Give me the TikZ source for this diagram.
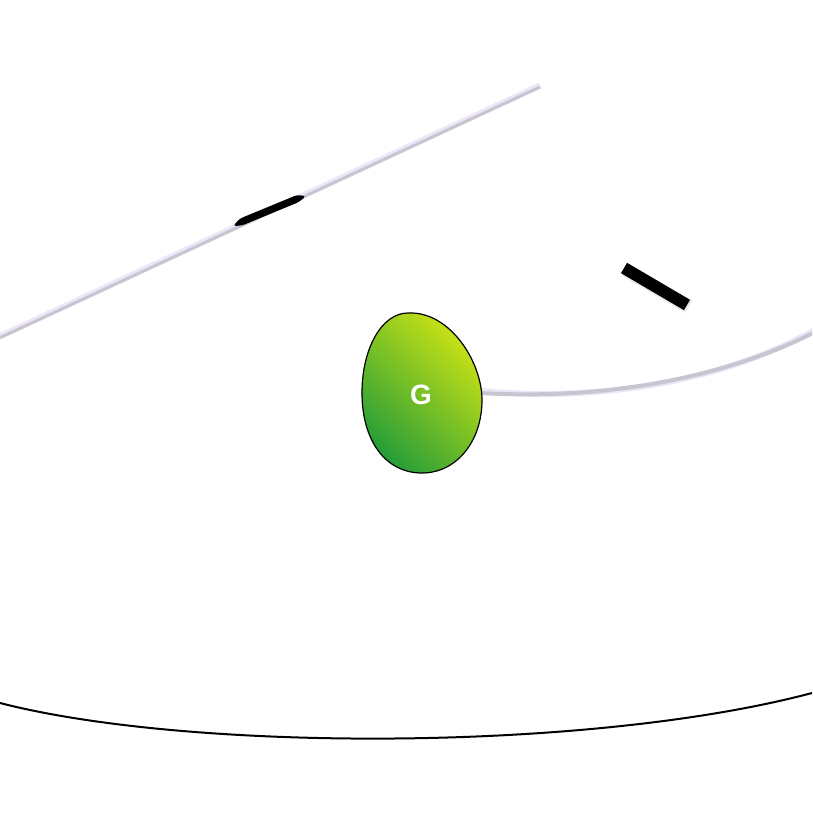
\documentclass[tikz,border=0pt]{standalone}
\usepackage{fontspec}
\setmainfont{Liberation Sans}
\begin{document}
\begin{tikzpicture}[x=1pt,y=-1pt,
  wire/.style={line width=3pt,color=wiregray},
  wirehalo/.style={line width=6pt,color=wirehalo},
  eggfill/.style={draw=black,line width=1.2pt,top color=egglight,bottom color=eggdark,shading angle=-45},
  blackbar/.style={line width=12pt,color=black}]
\definecolor{wiregray}{RGB}{200,196,208}
\definecolor{wirehalo}{RGB}{236,230,248}
\definecolor{egglight}{RGB}{205,228,20}
\definecolor{eggdark}{RGB}{40,158,55}
\useasboundingbox (0,0) rectangle (812,819);
\clip (0,0) rectangle (812,819);
% upper-left wire
\coordinate (wa) at (-5,340);
\coordinate (wb) at (540,87);
\draw[wirehalo] ([yshift=1.5pt]wa) -- ([yshift=1.5pt]wb);
\draw[wire] (wa) -- (wb);
% black tapered segment on the wire
\coordinate (sa) at (233,226);
\coordinate (sb) at (306,196);
\fill[black,rounded corners=3pt] (sa) -- (240,218.5) -- (297,195) -- (sb) -- (299,202) -- (242,225.5) -- cycle;
% black bar
\coordinate (ba) at (624,268);
\coordinate (bb) at (687,305);
\draw[line width=14pt,color=black!8] ([shift={(2,2)}]ba) -- ([shift={(2,2)}]bb);
\draw[blackbar] (ba) -- (bb);
% right wire
\coordinate (ra) at (480,393);
\coordinate (rb) at (815,332);
\draw[wirehalo] ([yshift=2pt]ra) .. controls (600,402) and (720,382) .. ([yshift=2pt]rb);
\draw[line width=4pt,color=wiregray] (ra) .. controls (600,400) and (720,380) .. (rb);
% egg
\path[eggfill] (408,313) .. controls (450,311) and (482,362) .. (482,400)
  .. controls (482,442) and (456,473) .. (422,473)
  .. controls (385,473) and (362,440) .. (362,393)
  .. controls (362,348) and (382,313) .. (408,313) -- cycle;
\node[text=white,font=\bfseries\fontsize{28}{28}\selectfont] (g) at (421,395) {G};
% bottom arc
\coordinate (la) at (0,703);
\coordinate (lb) at (812,693);
\draw[line width=2pt,black] (la) .. controls (190,752) and (590,752) .. (lb);
\end{tikzpicture}
\end{document}
